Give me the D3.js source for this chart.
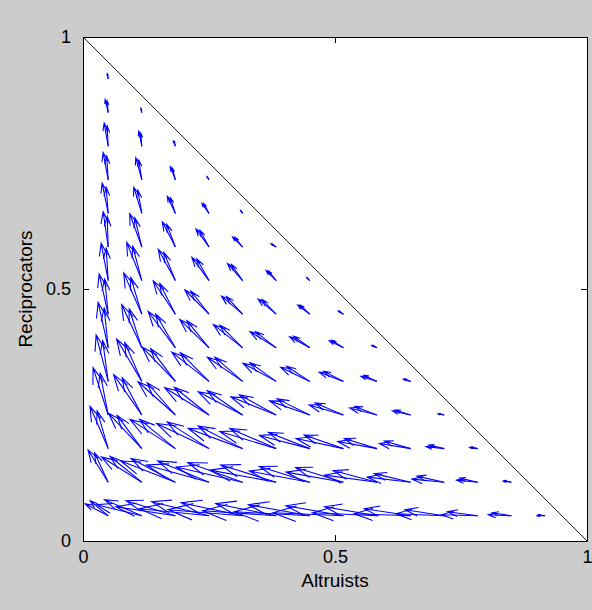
<!DOCTYPE html>
<html>
<head>
<meta charset="utf-8">
<script src="https://cdn.jsdelivr.net/npm/d3@7"></script>
<style>
  html, body { margin: 0; padding: 0; background: #cccccc; }
  svg { display: block; }
  text { font-family: "Liberation Sans", Arial, sans-serif; fill: #000; }
</style>
</head>
<body>
<svg id="chart" width="592" height="610"></svg>
<script>
// Grid of arrow tails (same steps on both axes)
const colX = [0.05, 0.1167, 0.1833, 0.25, 0.3167, 0.3833, 0.45, 0.5167, 0.5833, 0.65, 0.7167, 0.7833, 0.85, 0.9167];
const rowY = [0.05, 0.1167, 0.1833, 0.25, 0.3167, 0.3833, 0.45, 0.5167, 0.5833, 0.65, 0.7167, 0.7833, 0.85, 0.9167];

// First set of arrows, one array per row
const uRowsA = [
  [-0.046,-0.090,-0.118,-0.138,-0.148,-0.146,-0.150,-0.140,-0.128,-0.112,-0.096,-0.072,-0.046,-0.016],
  [-0.040,-0.080,-0.108,-0.124,-0.132,-0.132,-0.120,-0.114,-0.104,-0.086,-0.064,-0.042,-0.016],
  [-0.036,-0.066,-0.090,-0.104,-0.108,-0.112,-0.100,-0.094,-0.078,-0.062,-0.036,-0.016],
  [-0.030,-0.056,-0.074,-0.088,-0.088,-0.090,-0.080,-0.068,-0.054,-0.036,-0.012],
  [-0.024,-0.050,-0.066,-0.074,-0.070,-0.066,-0.058,-0.048,-0.032,-0.014],
  [-0.020,-0.040,-0.054,-0.058,-0.058,-0.052,-0.040,-0.028,-0.010],
  [-0.018,-0.036,-0.044,-0.048,-0.042,-0.036,-0.024,-0.010],
  [-0.014,-0.030,-0.034,-0.034,-0.030,-0.020,-0.006],
  [-0.010,-0.024,-0.026,-0.026,-0.020,-0.010],
  [-0.012,-0.016,-0.016,-0.014,-0.004],
  [-0.010,-0.012,-0.010,-0.004],
  [-0.008,-0.006,-0.004],
  [-0.006,-0.002],
  [-0.002]
];
const vRowsA = [
  [0.024,0.022,0.018,0.014,0.012,0.010,0.008,0.006,0.006,0.004,0.004,0.002,0.002,0.000],
  [0.064,0.050,0.042,0.034,0.030,0.024,0.022,0.020,0.014,0.010,0.006,0.004,0.002],
  [0.084,0.070,0.058,0.050,0.040,0.034,0.026,0.020,0.014,0.010,0.004,0.002],
  [0.094,0.080,0.066,0.054,0.046,0.036,0.028,0.020,0.014,0.008,0.002],
  [0.092,0.084,0.068,0.058,0.048,0.036,0.028,0.018,0.010,0.004],
  [0.090,0.086,0.072,0.056,0.046,0.032,0.022,0.014,0.004],
  [0.080,0.082,0.066,0.048,0.036,0.030,0.018,0.006],
  [0.074,0.076,0.062,0.046,0.034,0.020,0.006],
  [0.070,0.066,0.050,0.036,0.020,0.006],
  [0.060,0.052,0.034,0.020,0.006],
  [0.054,0.044,0.026,0.006],
  [0.046,0.030,0.010],
  [0.026,0.008],
  [0.010]
];

// Second, slightly shorter and steeper set drawn over the same points
const uRowsB = [
  [-0.036,-0.074,-0.098,-0.114,-0.122,-0.120,-0.122,-0.114,-0.104,-0.092,-0.078,-0.060,-0.038,-0.013],
  [-0.027,-0.063,-0.088,-0.102,-0.109,-0.110,-0.100,-0.095,-0.087,-0.072,-0.054,-0.036,-0.014],
  [-0.022,-0.049,-0.071,-0.083,-0.088,-0.092,-0.082,-0.078,-0.065,-0.052,-0.030,-0.013],
  [-0.016,-0.039,-0.056,-0.069,-0.070,-0.073,-0.065,-0.056,-0.044,-0.030,-0.010],
  [-0.011,-0.034,-0.049,-0.057,-0.055,-0.052,-0.046,-0.039,-0.026,-0.012],
  [-0.008,-0.025,-0.039,-0.044,-0.045,-0.041,-0.032,-0.023,-0.008],
  [-0.007,-0.022,-0.031,-0.036,-0.032,-0.028,-0.019,-0.008],
  [-0.004,-0.018,-0.023,-0.024,-0.022,-0.015,-0.005],
  [-0.002,-0.014,-0.017,-0.018,-0.015,-0.008],
  [-0.004,-0.008,-0.010,-0.010,-0.003],
  [-0.003,-0.006,-0.006,-0.003],
  [-0.002,-0.002,-0.002],
  [-0.002,-0.001],
  [-0.001]
];
const vRowsB = [
  [0.030,0.032,0.030,0.028,0.026,0.024,0.022,0.020,0.018,0.014,0.012,0.008,0.006,0.002],
  [0.058,0.051,0.047,0.042,0.039,0.034,0.031,0.029,0.023,0.017,0.012,0.008,0.003],
  [0.075,0.066,0.058,0.053,0.045,0.040,0.032,0.027,0.020,0.015,0.007,0.003],
  [0.083,0.074,0.064,0.055,0.048,0.040,0.032,0.024,0.017,0.010,0.003],
  [0.081,0.077,0.065,0.057,0.048,0.037,0.030,0.020,0.012,0.005],
  [0.079,0.077,0.067,0.054,0.045,0.032,0.023,0.015,0.005],
  [0.070,0.073,0.061,0.046,0.035,0.029,0.018,0.006],
  [0.064,0.068,0.056,0.043,0.032,0.019,0.005],
  [0.061,0.058,0.045,0.033,0.019,0.006],
  [0.052,0.046,0.031,0.019,0.005],
  [0.047,0.039,0.023,0.005],
  [0.040,0.026,0.009],
  [0.023,0.007],
  [0.009]
];

const tickValues = [0, 0.5, 1];
const tickLabels = ["0", "0.5", "1"];

// Build the arrow list from the rows of both sets
const arrows = [];
[[uRowsA, vRowsA], [uRowsB, vRowsB]].forEach(([uRows, vRows]) => {
    uRows.forEach((row, j) => {
        row.forEach((u, i) => {
            arrows.push({ x: colX[i], y: rowY[j], u: u, v: vRows[j][i] });
        });
    });
});

const svg = d3.select("#chart");
const box = { left: 83, top: 37, right: 587, bottom: 541 };

const x = d3.scaleLinear().domain([0, 1]).range([box.left, box.right]);
const y = d3.scaleLinear().domain([0, 1]).range([box.bottom, box.top]);

// Plot area
svg.append("rect")
    .attr("x", box.left).attr("y", box.top)
    .attr("width", box.right - box.left).attr("height", box.bottom - box.top)
    .attr("fill", "#fff");

svg.append("clipPath").attr("id", "clip")
    .append("rect")
    .attr("x", box.left).attr("y", box.top)
    .attr("width", box.right - box.left).attr("height", box.bottom - box.top);

// Simplex edge
svg.append("line")
    .attr("x1", x(0)).attr("y1", y(1))
    .attr("x2", x(1)).attr("y2", y(0))
    .attr("stroke", "#222").attr("stroke-width", 1);

// Quiver arrows, head drawn like the old MATLAB quiver
const alpha = 0.33, beta = 0.33;
const arrowPath = d => {
    const tx = d.x + d.u, ty = d.y + d.v;
    const b1x = tx - alpha * (d.u + beta * d.v), b1y = ty - alpha * (d.v - beta * d.u);
    const b2x = tx - alpha * (d.u - beta * d.v), b2y = ty - alpha * (d.v + beta * d.u);
    return `M${x(d.x)},${y(d.y)}L${x(tx)},${y(ty)}` +
           `M${x(b1x)},${y(b1y)}L${x(tx)},${y(ty)}L${x(b2x)},${y(b2y)}`;
};

svg.append("g").attr("clip-path", "url(#clip)")
    .selectAll("path")
    .data(arrows)
    .enter().append("path")
    .attr("d", arrowPath)
    .attr("fill", "none")
    .attr("stroke", "#0000ff")
    .attr("stroke-width", 1.1);

// Axes with inward ticks on all four sides
const tickLen = 6;
const bottomAxis = d3.axisBottom(x).tickValues(tickValues).tickFormat((d, i) => tickLabels[i]).tickSizeInner(-tickLen).tickSizeOuter(0).tickPadding(tickLen + 3);
const leftAxis = d3.axisLeft(y).tickValues(tickValues).tickFormat((d, i) => tickLabels[i]).tickSizeInner(-tickLen).tickSizeOuter(0).tickPadding(tickLen + 6);
const topAxis = d3.axisTop(x).tickValues(tickValues).tickFormat("").tickSizeInner(-tickLen).tickSizeOuter(0);
const rightAxis = d3.axisRight(y).tickValues(tickValues).tickFormat("").tickSizeInner(-tickLen).tickSizeOuter(0);

const gB = svg.append("g").attr("transform", `translate(0,${box.bottom})`).call(bottomAxis);
const gL = svg.append("g").attr("transform", `translate(${box.left},0)`).call(leftAxis);
svg.append("g").attr("transform", `translate(0,${box.top})`).call(topAxis);
svg.append("g").attr("transform", `translate(${box.right},0)`).call(rightAxis);

svg.selectAll(".domain").attr("stroke", "#000");
svg.selectAll(".tick line").attr("stroke", "#000");
[gB, gL].forEach(g => g.selectAll("text")
    .style("font-family", '"Liberation Sans", Arial, sans-serif')
    .style("font-size", "18px")
    .attr("fill", "#000"));

// Axis labels
svg.append("text")
    .attr("x", (box.left + box.right) / 2)
    .attr("y", 587)
    .attr("text-anchor", "middle")
    .style("font-size", "19px")
    .text("Altruists");

svg.append("text")
    .attr("transform", `translate(32,${(box.top + box.bottom) / 2}) rotate(-90)`)
    .attr("text-anchor", "middle")
    .style("font-size", "19px")
    .text("Reciprocators");
</script>
</body>
</html>
